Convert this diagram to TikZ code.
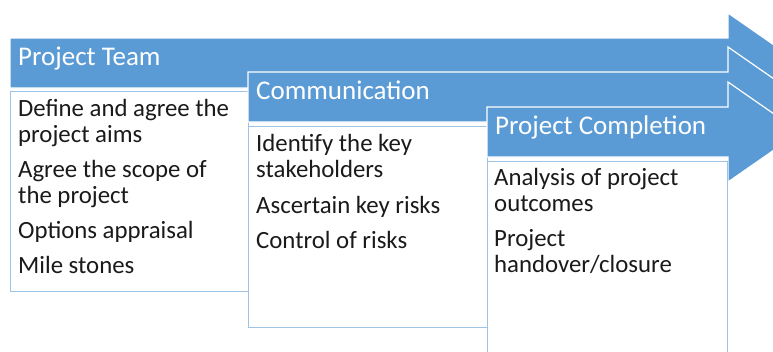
\documentclass[tikz,border=0pt]{standalone}
\usepackage{fontspec}
\setmainfont{Carlito}
\definecolor{flowblue}{HTML}{5B9BD5}
\definecolor{boxedge}{HTML}{9DC3E6}
\definecolor{bodyink}{HTML}{1A1A1A}

\begin{document}
\begin{tikzpicture}[x=1pt,y=-1pt,
  stage/.style={fill=flowblue, draw=white, line width=1.2pt, line join=miter},
  panel/.style={fill=white, draw=boxedge, line width=0.9pt},
  head/.style={text=white, font=\fontsize{27}{30}\selectfont, anchor=base west, inner sep=0pt},
  item/.style={text=bodyink, font=\fontsize{24.8}{26}\selectfont, anchor=base west, inner sep=0pt, align=left}]

\path[use as bounding box] (0,0) rectangle (773,351);
\clip (0,0) rectangle (773,351);

% stage 1: project team (multi-line items are placed by their last baseline)
\draw[stage] (10,38) -- (728,38) -- (728,13) -- (800,63) -- (728,113) -- (728,88) -- (10,88) -- cycle;
\draw[panel] (10,91.5) rectangle (248,291.5);
\node[head] (teamhead) at (18,65.5) {Project Team};
\node[item] (aims) at (18,142) {Define and agree the\\project aims};
\node[item] (scope) at (18,203) {Agree the scope of\\the project};
\node[item] (options) at (18,238) {Options appraisal};
\node[item] (miles) at (18,273) {Mile stones};

% stage 2: communication
\draw[stage] (248,72) -- (728,72) -- (728,47) -- (800,97) -- (728,147) -- (728,122) -- (248,122) -- cycle;
\draw[panel] (248,126) rectangle (487,327);
\node[head] (commhead) at (256,99.5) {Communication};
\node[item] (stake) at (256,177) {Identify the key\\stakeholders};
\node[item] (risks) at (256,213) {Ascertain key risks};
\node[item] (control) at (256,248) {Control of risks};

% stage 3: project completion
\draw[stage] (487,107) -- (728,107) -- (728,82) -- (800,132) -- (728,182) -- (728,157) -- (487,157) -- cycle;
\draw[panel] (487,161) rectangle (727,360);
\node[head] (donehead) at (495,134) {Project Completion};
\node[item] (outcomes) at (494,211) {Analysis of project\\outcomes};
\node[item] (handover) at (494,272) {Project\\handover/closure};
\end{tikzpicture}
\end{document}
